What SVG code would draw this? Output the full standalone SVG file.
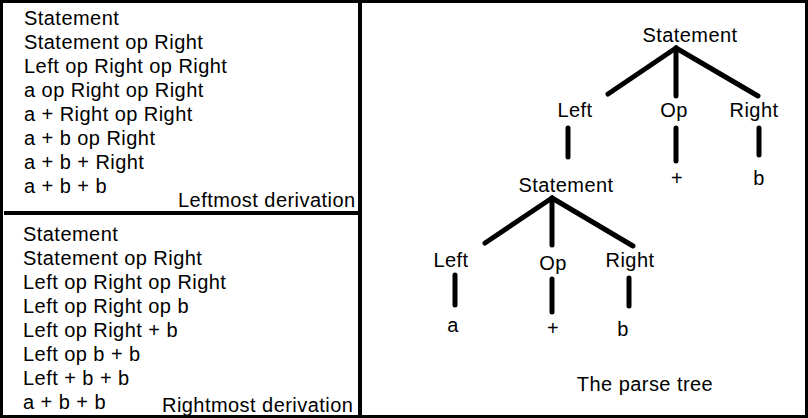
<svg xmlns="http://www.w3.org/2000/svg" width="808" height="418" viewBox="0 0 808 418">
<style>
text{font-family:"Liberation Sans",Arial,sans-serif;font-size:20px;fill:#000;letter-spacing:0.45px}
.t{text-anchor:middle}
.e{stroke:#000;stroke-width:5;stroke-linecap:round;fill:none}
.b{stroke:#000;fill:none}
</style>
<rect x="0" y="0" width="808" height="418" fill="#fff"/>
<g id="frame">
<rect class="b" x="1.5" y="1.5" width="805" height="415" stroke-width="3"/>
<line class="b" x1="360" y1="0" x2="360" y2="418" stroke-width="4"/>
<line class="b" x1="4" y1="213" x2="360" y2="213" stroke-width="4"/>
</g>
<g id="leftmost">
<text x="24" y="25">Statement</text>
<text x="24" y="49">Statement op Right</text>
<text x="24" y="73">Left op Right op Right</text>
<text x="24" y="97">a op Right op Right</text>
<text x="24" y="121">a + Right op Right</text>
<text x="24" y="145">a + b op Right</text>
<text x="24" y="169">a + b + Right</text>
<text x="24" y="193">a + b + b</text>
<text x="178" y="207">Leftmost derivation</text>
</g>
<g id="rightmost">
<text x="23" y="241">Statement</text>
<text x="23" y="265">Statement op Right</text>
<text x="23" y="289">Left op Right op Right</text>
<text x="23" y="313">Left op Right op b</text>
<text x="23" y="337">Left op Right + b</text>
<text x="23" y="361">Left op b + b</text>
<text x="23" y="385">Left + b + b</text>
<text x="23" y="409">a + b + b</text>
<text x="162" y="412">Rightmost derivation</text>
</g>
<g id="connectors">
<line class="e" x1="676" y1="48" x2="608" y2="94"/>
<line class="e" x1="676" y1="48" x2="676" y2="96"/>
<line class="e" x1="676" y1="48" x2="758" y2="96"/>
<line class="e" x1="568" y1="128" x2="568" y2="157"/>
<line class="e" x1="676" y1="128" x2="676" y2="161"/>
<line class="e" x1="759" y1="128" x2="759" y2="155"/>
<line class="e" x1="552" y1="198" x2="485" y2="243"/>
<line class="e" x1="552" y1="198" x2="552" y2="245"/>
<line class="e" x1="552" y1="198" x2="633" y2="246"/>
<line class="e" x1="455" y1="275" x2="455" y2="305"/>
<line class="e" x1="552" y1="279" x2="552" y2="312"/>
<line class="e" x1="629" y1="278" x2="629" y2="306"/>
</g>
<g id="stmt1"><text class="t" x="690" y="42">Statement</text></g>
<g id="left1"><text class="t" x="575" y="117">Left</text></g>
<g id="op1"><text class="t" x="674" y="117">Op</text></g>
<g id="right1"><text class="t" x="754" y="117">Right</text></g>
<g id="plus1"><text class="t" x="677" y="185">+</text></g>
<g id="b1"><text class="t" x="759" y="185">b</text></g>
<g id="stmt2"><text class="t" x="566" y="192">Statement</text></g>
<g id="left2"><text class="t" x="451" y="267">Left</text></g>
<g id="op2"><text class="t" x="553" y="270">Op</text></g>
<g id="right2"><text class="t" x="630" y="267">Right</text></g>
<g id="a2"><text class="t" x="453" y="332">a</text></g>
<g id="plus2"><text class="t" x="553" y="335">+</text></g>
<g id="b2"><text class="t" x="623" y="336">b</text></g>
<g id="caption"><text class="t" x="645" y="391">The parse tree</text></g>
</svg>
